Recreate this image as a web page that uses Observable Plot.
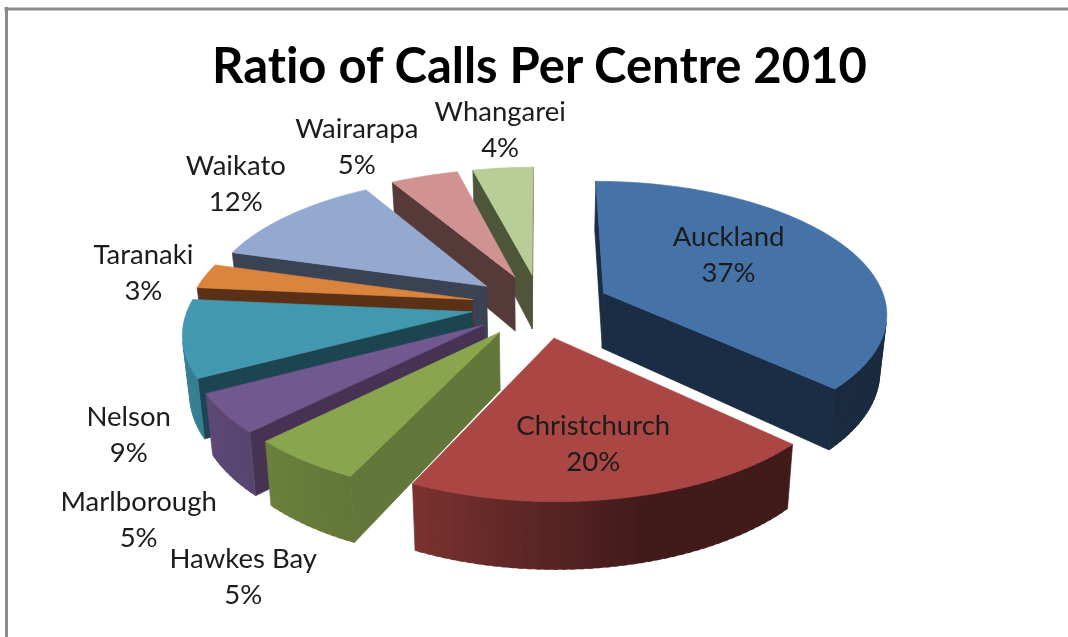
<!DOCTYPE html>
<html>
<head>
<meta charset="utf-8">
<script src="https://cdn.jsdelivr.net/npm/d3@7"></script>
<script src="https://cdn.jsdelivr.net/npm/@observablehq/plot@0.6"></script>
<style>html,body{margin:0;padding:0;background:#fff}svg{display:block;filter:blur(0.4px)}svg text{font-variant-ligatures:none}</style>
</head>
<body>
<div id="chart"></div>
<script>
const centres = ["Auckland","Christchurch","Hawkes Bay","Marlborough","Nelson","Taranaki","Waikato","Wairarapa","Whangarei"];
const shares = [37, 20, 5.49, 4.71, 9.3, 3, 12, 4.5, 4];
const topColors = ["#4572a7","#aa4643","#89a54e","#71588f","#4198af","#db843d","#93a9cf","#d19392","#b9cd96"];
const wallColors = ["#1a2d44","#431a18","#64773a","#463354","#1d4551","#5a3116","#3a4254","#563939","#4e5639"];
const labelRadius = [0.816,0.935,1.80,1.764,1.543,1.481,1.642,1.675,1.683];
const labelAngle = [59.5,170,206.9,220.9,236,280.5,311,332.1,354];
const rimAngles = [120,165,205,240,285];
const rimShades = [0.38,0.38,0.72,0.82,0.9];

// Camera of the tilted, exploded pie
const W = 1068, H = 637;
const cam = {vx:540, horizon:-627, K:932, A:283, k:0.14, explode:0.246, depth:56, shrink:0.98};
const rad = d => d * Math.PI / 180;
function project(X, Y, bottom) {
  const s = 1 / (1 + cam.k * Y);
  const sx = cam.A * X * s * (bottom ? cam.shrink : 1);
  return {x: cam.vx + sx, y: cam.horizon + cam.K * s + (bottom ? cam.depth * s : 0)};
}
const rimShade = d3.scaleLinear().domain(rimAngles).range(rimShades).clamp(true);
const shade = (c, f) => { const r = d3.rgb(c); return d3.rgb(r.r*f, r.g*f, r.b*f).formatHex(); };

const polys = [];
let pid = 0;
function addPoly(pts, color) { const id = pid++; [...pts, pts[0]].forEach(p => polys.push({...p, id, color})); }
function signedArea(p) {
  let a = 0;
  p.forEach((q,i) => { const n = p[(i+1)%p.length]; a += q.x*n.y - n.x*q.y; });
  return a;
}

const total = d3.sum(shares);
let acc = 0;
const slices = centres.map((name,i) => {
  const a0 = acc / total * 360; acc += shares[i]; const a1 = acc / total * 360;
  const mid = (a0 + a1) / 2;
  return {name, i, a0, a1, ex: cam.explode*Math.sin(rad(mid)), ey: cam.explode*Math.cos(rad(mid))};
});
const rimPoint = (s, t, bottom) => project(Math.sin(rad(t)) + s.ex, Math.cos(rad(t)) + s.ey, bottom);
const apexPoint = (s, bottom) => project(s.ex, s.ey, bottom);

slices.slice().sort((a,b) => apexPoint(a).y - apexPoint(b).y).forEach(s => {
  const n = Math.max(2, Math.ceil((s.a1 - s.a0) / 1.5));
  const ts = d3.range(n + 1).map(j => s.a0 + (s.a1 - s.a0) * j / n);
  const face = (P0, P1, P2, P3, c) => { const q = [P0,P1,P2,P3]; if (signedArea(q) < 0) addPoly(q, c); };
  const wc = wallColors[s.i], tc = topColors[s.i];
  face(apexPoint(s), rimPoint(s,s.a0), rimPoint(s,s.a0,true), apexPoint(s,true), wc);
  face(rimPoint(s,s.a1), apexPoint(s), apexPoint(s,true), rimPoint(s,s.a1,true), wc);
  for (let j = 0; j < n; j++) {
    const m = (ts[j] + ts[j+1]) / 2;
    const base = [rimPoint(s,ts[j]), rimPoint(s,ts[j+1]), rimPoint(s,ts[j+1],true), rimPoint(s,ts[j],true)];
    if (signedArea(base) < 0) {
      // each strip runs under the next one, so no seams show between them
      const t2 = ts[Math.min(j + 2, n)];
      addPoly([rimPoint(s,ts[j]), rimPoint(s,(ts[j+1]+t2)/2), rimPoint(s,(ts[j+1]+t2)/2,true), rimPoint(s,ts[j],true)], shade(tc, rimShade(m)));
    }
  }
  addPoly([apexPoint(s), ...ts.map(t => rimPoint(s,t))], tc);
});

const labels = slices.map((s,i) => {
  const p = project(labelRadius[i]*Math.sin(rad(labelAngle[i])), labelRadius[i]*Math.cos(rad(labelAngle[i])));
  return {...p, text: `${s.name}\n${Math.round(shares[i])}%`};
});

const plot = Plot.plot({
  width: W, height: H, margin: 0,
  x: {domain:[0,W], range:[0,W], axis:null},
  y: {domain:[0,H], range:[0,H], axis:null},
  marks: [
    Plot.ruleY([8.5], {x1:4.5, x2:W, stroke:"#8a8a8a", strokeWidth:3}),
    Plot.ruleX([6], {y1:7, y2:H, stroke:"#8a8a8a", strokeWidth:3}),
    Plot.line(polys, {x:"x", y:"y", z:"id", fill:"color", stroke:"color", strokeWidth:0.7, curve:"linear"}),
    Plot.text(labels, {x:"x", y:"y", dy:-1.5, text:"text", fontFamily:"Lato", fontSize:27.5, fill:"#1c1c1c", lineHeight:1.31}),
    Plot.text(["Ratio of Calls Per Centre 2010"], {x:()=>539, y:()=>66.5, fontFamily:"Lato", fontWeight:700, fontSize:49, fill:"#000"})
  ]
});
document.getElementById("chart").appendChild(plot);
</script>
</body>
</html>
